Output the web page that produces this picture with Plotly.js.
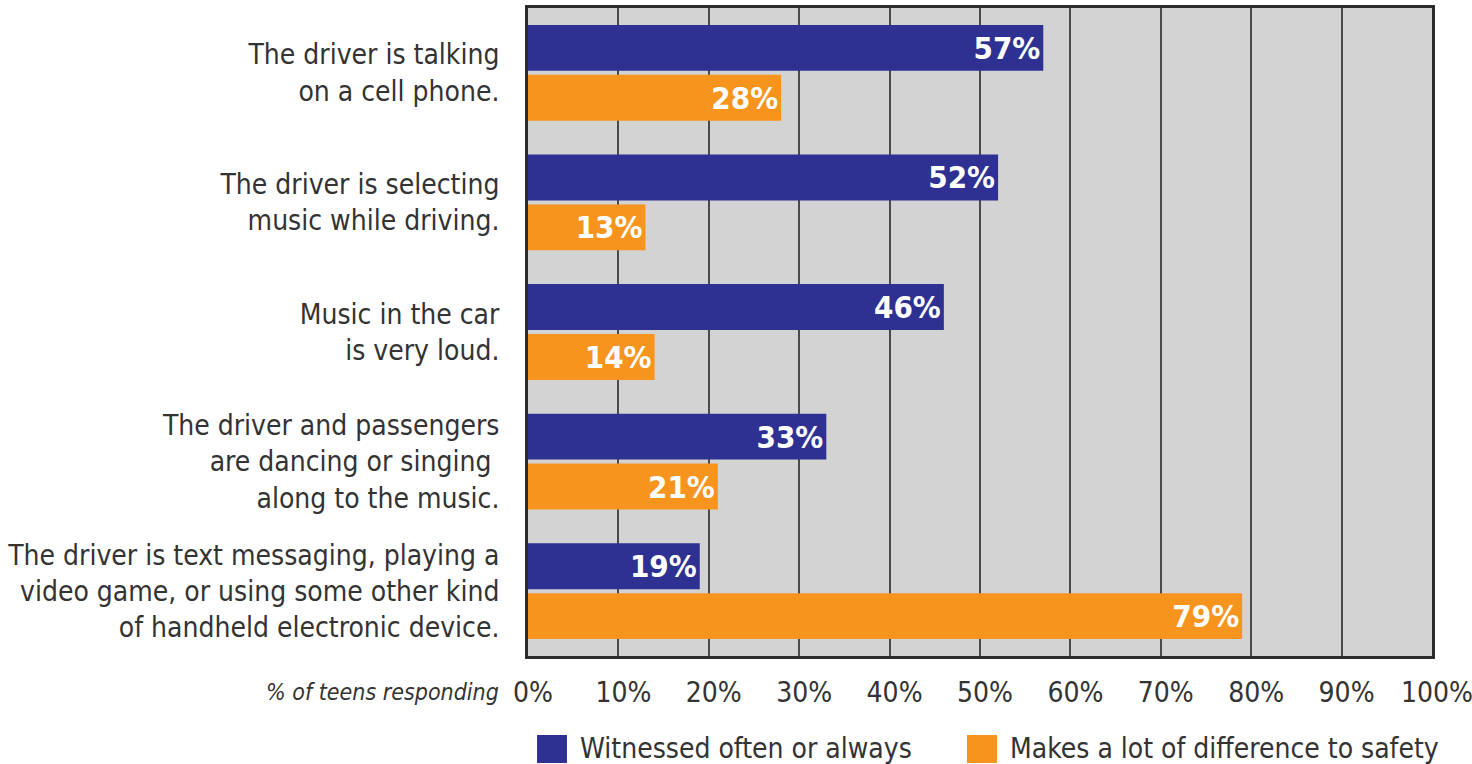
<!DOCTYPE html>
<html>
<head>
<meta charset="utf-8">
<script src="https://cdn.plot.ly/plotly-3.0.1.min.js"></script>
<style>
  html, body { margin: 0; padding: 0; background: #ffffff; }
  #chart { width: 1472px; height: 764px; }
</style>
</head>
<body>
<div id="chart"></div>
<script>
// ---- Data ----
const categories = [
  "The driver is talking<br>on a cell phone.",
  "The driver is selecting<br>music while driving.",
  "Music in the car<br>is very loud.",
  "The driver and passengers<br>are dancing or singing <br>along to the music.",
  "The driver is text messaging, playing a<br>video game, or using some other kind<br>of handheld electronic device."
];
const seriesNames = ["Witnessed often or always", "Makes a lot of difference to safety"];
const witnessed = [57, 52, 46, 33, 19];
const safety = [28, 13, 14, 21, 79];
const tickValues = [0, 10, 20, 30, 40, 50, 60, 70, 80, 90, 100];
const tickLabels = ["0%", "10%", "20%", "30%", "40%", "50%", "60%", "70%", "80%", "90%", "100%"];
const axisNote = "% of teens responding";

// ---- Styles ----
const colors = ["#2e3192", "#f7941d"];
const FONT = "'DejaVu Sans Condensed', 'Liberation Sans Narrow', sans-serif";
const textColor = "#333333";

function barTrace(values, i) {
  return {
    type: "bar",
    orientation: "h",
    y: categories,
    x: values,
    name: seriesNames[i],
    marker: { color: colors[i], line: { width: 0 } },
    text: values.map(v => v + "%"),
    textposition: "inside",
    insidetextanchor: "end",
    constraintext: "none",
    textfont: { family: FONT, size: 31, color: "#ffffff", weight: "bold" },
    hoverinfo: "skip",
    showlegend: false
  };
}

const data = [barTrace(witnessed, 0), barTrace(safety, 1)];

// Legend drawn as swatches + labels below the axis
const legendX = [
  { sq: [0.0100, 0.0431], tx: 0.0553 },
  { sq: [0.4856, 0.5188], tx: 0.5310 }
];
const shapes = seriesNames.map((n, i) => ({
  type: "rect", xref: "paper", yref: "paper",
  x0: legendX[i].sq[0], x1: legendX[i].sq[1],
  y0: -0.1219, y1: -0.1651,
  fillcolor: colors[i], line: { width: 0 }
}));
const annotations = seriesNames.map((n, i) => ({
  xref: "paper", yref: "paper",
  x: legendX[i].tx, y: -0.1435,
  xanchor: "left", yanchor: "middle",
  text: n, showarrow: false,
  font: { family: FONT, size: 28, color: textColor }
}));
annotations.push({
  xref: "paper", yref: "paper",
  x: -0.03, y: -0.055,
  xanchor: "right", yanchor: "middle",
  text: "<i>" + axisNote + "</i>", showarrow: false,
  font: { family: FONT, size: 23, color: textColor }
});

const layout = {
  width: 1472,
  height: 764,
  margin: { l: 528, r: 40, t: 8, b: 108, pad: 0 },
  paper_bgcolor: "#ffffff",
  plot_bgcolor: "#d3d3d3",
  barmode: "group",
  bargap: 0.23,
  bargroupgap: 0.08,
  showlegend: false,
  font: { family: FONT, color: textColor },
  xaxis: {
    range: [0, 100],
    tickvals: tickValues,
    ticktext: tickLabels,
    showgrid: true,
    gridcolor: "#4a4a4a",
    gridwidth: 2,
    zeroline: false,
    showline: true,
    mirror: true,
    linecolor: "#2b2b2b",
    linewidth: 3,
    ticks: "",
    ticklabelstandoff: 9,
    ticklabelshift: 5,
    ticklabeloverflow: "allow",
    tickfont: { family: FONT, size: 28, color: textColor },
    fixedrange: true
  },
  yaxis: {
    autorange: "reversed",
    showgrid: false,
    zeroline: false,
    showline: true,
    mirror: true,
    linecolor: "#2b2b2b",
    linewidth: 3,
    ticks: "",
    ticklabelstandoff: 20,
    tickfont: { family: FONT, size: 28, color: textColor },
    fixedrange: true
  },
  shapes: shapes,
  annotations: annotations
};

Plotly.newPlot("chart", data, layout, { displayModeBar: false, staticPlot: true });
</script>
</body>
</html>
